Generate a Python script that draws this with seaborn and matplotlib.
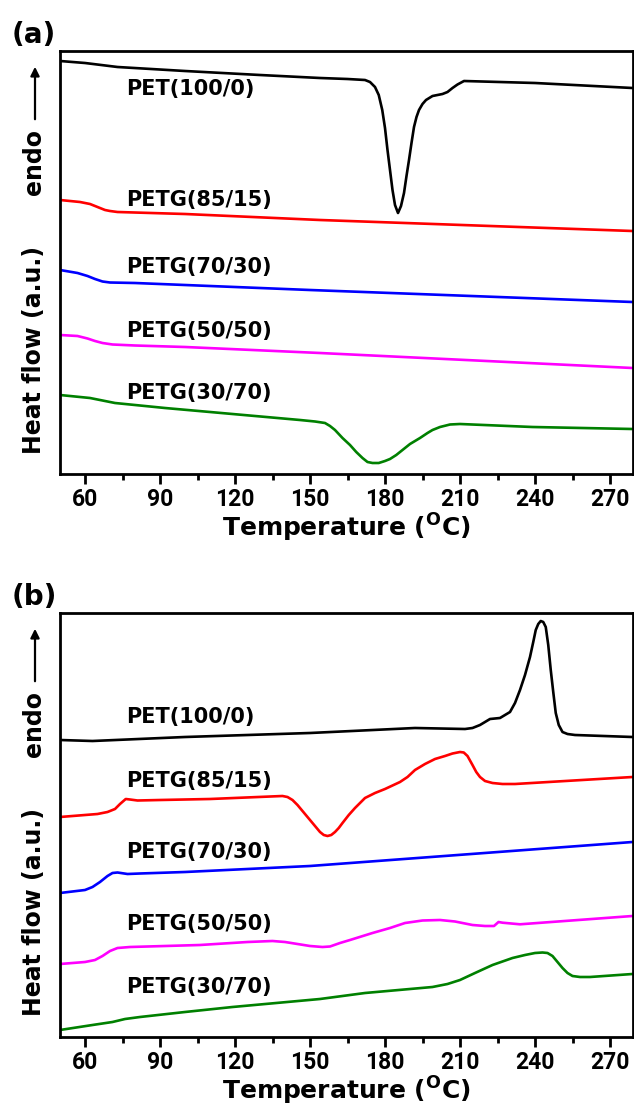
import numpy as np
import matplotlib
matplotlib.use('Agg')
import matplotlib.pyplot as plt
from matplotlib.ticker import MultipleLocator
import seaborn as sns

# (a) curves - temperature (C) and heat flow (a.u., offset already included)
a_pet_t = [50, 60, 73, 100, 130, 154, 165, 172, 174, 176, 177.5, 178.9, 180, 181, 182, 183, 184, 185.2, 186.4,
           187.6, 188.6, 189.6, 190.6, 191.6, 192.6, 193.6, 195, 196.4, 199, 203, 205, 207, 209, 211.6, 240, 279]
a_pet_h = [413, 411, 407, 403, 399, 396, 395, 394, 392, 387, 379, 364, 346, 324, 304, 284, 269, 261, 268,
           281, 298, 314, 331, 347, 357, 364, 370, 374, 378, 380, 382, 386, 389.5, 393, 391, 386]
a_8515_t = [50, 58, 62, 65, 68, 70, 73, 100, 154, 279]
a_8515_h = [274, 272, 270, 267, 264, 263, 262, 260, 254, 243]
a_7030_t = [50, 57, 61, 64, 67, 70, 80, 150, 279]
a_7030_h = [204, 201, 198, 195, 192.5, 191.5, 191, 184, 172]
a_5050_t = [50, 57, 61, 64, 67, 71, 80, 100, 154, 279]
a_5050_h = [139, 138, 135.5, 133, 131, 129.5, 128.5, 127, 121, 106]
a_3070_t = [50, 62, 72, 92, 119, 146, 152, 156, 158, 160, 163, 166, 168.5, 171, 173, 175, 177.5, 180, 182,
            184.5, 187, 190, 194, 197, 199, 202, 206, 210, 239, 279]
a_3070_h = [79, 76, 71, 66, 60, 54, 52.5, 51, 48, 44, 36, 29, 22, 16, 12, 11, 11, 13, 15,
            19, 24, 30, 36, 41, 44, 47, 49.5, 50, 47, 45]

# (b) curves
b_pet_t = [50, 63, 100, 150, 192, 212, 215, 218, 220, 222, 224, 226, 228, 230, 232, 234, 236, 238, 239.3,
           240.3, 241.3, 242.3, 243.3, 244.3, 245.3, 246.3, 247.3, 248.3, 249.5, 251, 253, 256, 279]
b_pet_h = [297, 296, 300, 304, 309, 308, 309, 312, 315, 318, 318.5, 319, 322, 325, 334, 347, 362, 380, 395,
           407, 413, 416, 415, 410, 392, 367, 345, 324, 312, 305, 303, 302, 300]
b_8515_t = [50, 60, 65, 69, 72, 74, 76.3, 78, 81, 90, 110, 139, 141, 143, 145, 147, 150, 152, 154, 155.5, 157,
            158.5, 160, 161.5, 163, 165.5, 168, 170, 172, 176, 180, 186, 189, 192, 196, 200, 204, 207, 210,
            211.5, 213, 215, 216.5, 218, 220, 223, 227, 232, 279]
b_8515_h = [220, 222, 223, 225, 228, 233, 238, 237.5, 236.5, 237, 238, 241, 240, 237, 232, 226, 217, 211, 205,
            202, 201, 202, 205, 209, 214, 222, 229, 234, 239, 244, 248, 255, 260, 267, 273, 278, 281, 283.5,
            285, 284.5, 281, 272, 265, 260, 256, 254, 253, 253, 260]
b_7030_t = [50, 60, 63, 66, 69, 71, 73, 77, 82, 100, 150, 279]
b_7030_h = [144, 147, 150, 155, 161, 164, 164.5, 163, 163.5, 165, 171, 195]
b_5050_t = [50, 60, 64, 67, 70, 73, 78, 106, 125, 135, 140, 145, 150, 155, 158, 162, 166, 175, 182, 188, 195,
            202, 208, 215, 220, 223.6, 225.4, 227, 234, 279]
b_5050_h = [73, 75, 77, 81, 86, 89, 90, 92, 95, 96, 95, 93, 91, 90, 90.5, 94, 97, 104, 109, 114, 116.5,
            117, 115.5, 112, 111, 111, 115, 114.3, 112.7, 121]
b_3070_t = [50, 63, 71, 76, 82, 100, 119, 154, 172, 190, 199, 205, 210, 216, 223, 231, 236, 240, 243, 245,
            247, 249, 251, 253, 255, 258, 262, 279]
b_3070_h = [7, 12, 15, 18, 20, 25, 30, 38, 44, 48, 50, 53, 57, 64, 72, 79, 82, 84, 84.5, 84,
            81, 75, 69, 64, 61, 60, 60, 63]

names = ['PET(100/0)', 'PETG(85/15)', 'PETG(70/30)', 'PETG(50/50)', 'PETG(30/70)']
colors = ['#000000', '#ff0000', '#0000ff', '#ff00ff', '#008000']
a_label_y = [385, 274, 207, 143, 81]
b_label_y = [320, 256, 185, 113, 50]

a_curves = [(a_pet_t, a_pet_h), (a_8515_t, a_8515_h), (a_7030_t, a_7030_h), (a_5050_t, a_5050_h), (a_3070_t, a_3070_h)]
b_curves = [(b_pet_t, b_pet_h), (b_8515_t, b_8515_h), (b_7030_t, b_7030_h), (b_5050_t, b_5050_h), (b_3070_t, b_3070_h)]

sns.set_style('ticks')
plt.rcParams['font.family'] = ['DejaVu Sans']
plt.rcParams['font.weight'] = 'bold'
plt.rcParams['mathtext.fontset'] = 'dejavusans'
plt.rcParams['text.color'] = 'black'
plt.rcParams['axes.labelcolor'] = 'black'
plt.rcParams['axes.edgecolor'] = 'black'
plt.rcParams['xtick.color'] = 'black'
plt.rcParams['lines.solid_joinstyle'] = 'round'

W, H = 634, 1110
fig = plt.figure(figsize=(W / 100, H / 100), dpi=100)


def panel(top_px, bottom_px, curves, label_y, tag):
    ax = fig.add_axes([60 / W, 1 - bottom_px / H, 572.5 / W, (bottom_px - top_px) / H])
    for (t, h), c in zip(curves, colors):
        sns.lineplot(x=t, y=h, color=c, lw=1.9, estimator=None, sort=False, ax=ax)
    for name, y in zip(names, label_y):
        ax.text(76.4, y, name, fontsize=15, fontweight='bold', ha='left', va='center')
    ax.set_xlim(50, 279)
    ax.set_ylim(0, bottom_px - top_px)
    ax.xaxis.set_major_locator(MultipleLocator(30))
    ax.xaxis.set_minor_locator(MultipleLocator(15))
    ax.set_yticks([])
    for s in ax.spines.values():
        s.set_linewidth(2)
        s.set_visible(True)
    ax.tick_params(axis='x', which='major', direction='out', length=7, width=2, pad=3)
    ax.tick_params(axis='x', which='minor', direction='out', length=4, width=2)
    for lab in ax.get_xticklabels():
        lab.set_fontfamily('Roboto')
        lab.set_fontweight('bold')
        lab.set_fontsize(16.5)
    ax.set_xlabel(r'Temperature ($^{\mathbf{O}}$C)', fontsize=18, fontweight='bold', labelpad=1)
    ax.set_ylabel('')

    # y label, "endo" and arrow
    fig.text(34 / W, 1 - (top_px + 299) / H, 'Heat flow (a.u.)', rotation=90, fontsize=17,
             fontweight='bold', ha='center', va='center')
    fig.text(34 / W, 1 - (top_px + 111) / H, 'endo', rotation=90, fontsize=17,
             fontweight='bold', ha='center', va='center')
    fig.add_artist(plt.Annotation('', xy=(35, H - (top_px + 13)), xytext=(35, H - (top_px + 71)),
                                  xycoords='figure pixels', textcoords='figure pixels',
                                  arrowprops=dict(arrowstyle='-|>', lw=1.6, color='k', mutation_scale=13)))
    fig.text(12 / W, 1 - (top_px - 16) / H, tag, fontsize=20, fontweight='bold', ha='left', va='center')
    return ax


panel(51, 474, a_curves, a_label_y, '(a)')
panel(613, 1037, b_curves, b_label_y, '(b)')

fig.savefig('out.png', dpi=100)
